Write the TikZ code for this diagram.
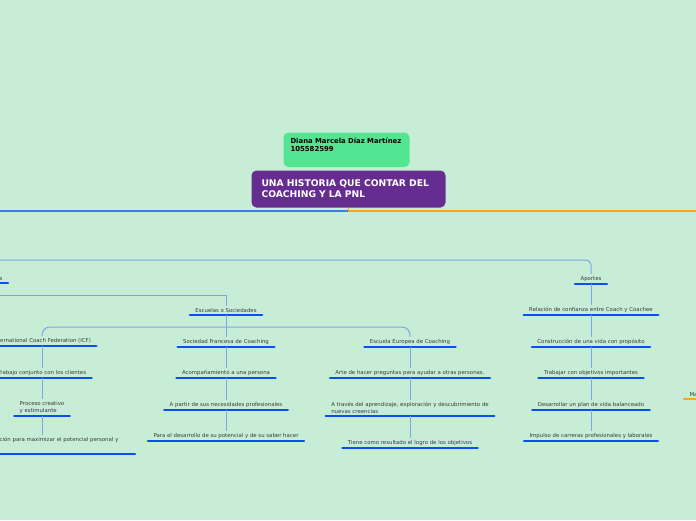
\documentclass[tikz,border=0pt]{standalone}
\usepackage{fontspec}
\setmainfont{DejaVu Sans}
\usetikzlibrary{positioning}
\definecolor{cmint}{HTML}{C7EDD7}
\definecolor{cgreen}{HTML}{52E592}
\definecolor{cpurple}{HTML}{662D91}
\definecolor{cblue}{HTML}{0A50F0}
\definecolor{clink}{HTML}{7BA7E6}
\definecolor{ctrunk}{HTML}{3C7FE0}
\definecolor{corange}{HTML}{F5A623}
\definecolor{ctext}{HTML}{3A3A3A}
\tikzset{
  every picture/.style={x=1pt, y=-1pt, line width=1pt},
  bar/.style={draw=#1, line width=2.6pt, line cap=round},
  topic/.style={text=ctext, font=\fontsize{5.4}{7}\selectfont, inner xsep=5pt, inner ysep=2pt, align=center,
    append after command={(\tikzlastnode.south west) edge[bar=#1] (\tikzlastnode.south east)}},
  topic/.default=cblue,
  link/.style={draw=clink, line width=1pt},
  trunk/.style={draw=#1, line width=1.6pt},
  root/.style={fill=cpurple, text=white, font=\fontsize{9.2}{11}\selectfont\bfseries, rounded corners=5pt,
    text width=174pt, inner xsep=10pt, minimum height=37pt, align=left},
  author/.style={fill=cgreen, text=black, font=\fontsize{6.9}{8}\selectfont\bfseries, rounded corners=5pt,
    text width=112pt, inner xsep=7pt, inner ysep=5.5pt, align=left},
}
\begin{document}
\begin{tikzpicture}
  \useasboundingbox[fill=cmint] (0,0) rectangle (696,520);
  % central topic
  \node[author, anchor=north west] (dmd) at (283,132) {Diana Marcela Díaz Martínez\\105582599\\[2pt]\mbox{}};
  \node[root, anchor=north west] (root) at (251,170) {UNA HISTORIA QUE CONTAR DEL\\COACHING Y LA PNL};
  \coordinate (lft) at (0,211);
  \coordinate (rgt) at (696,211);
  \draw[trunk=ctrunk] (root.south) |- (lft);
  \draw[trunk=corange] (root.south) |- (rgt);
  % left branch
  \node[topic, anchor=south east] (ant) at (8,283) {Antecedentes};
  \node[topic, anchor=south] (esc) at (226,315) {Escuelas o Sociedades};
  \node[topic, anchor=south] (icf1) at (42,346) {International Coach Federation (ICF)};
  \node[topic, anchor=south] (icf2) at (42,378) {Trabajo conjunto con los clientes};
  \node[topic, anchor=south, align=left] (icf3) at (42,416) {Proceso creativo\\y estimulante};
  \node[topic, anchor=south west, align=left, text width=148pt] (icf4) at (-24,454)
    {Motivación para maximizar el potencial personal y\\[3pt]\mbox{}};
  \foreach \t/\y [count=\i] in {Sociedad Francesa de Coaching/347, Acompañamiento a una persona/378,
      A partir de sus necesidades profesionales/410, Para el desarrollo de su potencial y de su saber hacer/441}
    \node[topic, anchor=south] (fr\i) at (226,\y) {\t};
  \node[topic, anchor=south] (eu1) at (410,347) {Escuela Europea de Coaching};
  \node[topic, anchor=south] (eu2) at (410,378) {Arte de hacer preguntas para ayudar a otras personas.};
  \node[topic, anchor=south, align=left] (eu3) at (410,416) {A través del aprendizaje, exploración y descubrimiento de\\nuevas creencias};
  \node[topic, anchor=south] (eu4) at (410,448) {Tiene como resultado el logro de los objetivos};
  % aportes
  \node[topic, anchor=south] (apo) at (591,284) {Aportes};
  \foreach \t/\y [count=\i] in {Relación de confianza entre Coach y Coachee/315, Construcción de una vida con propósito/347,
      Trabajar con objetivos importantes/378, Desarrollar un plan de vida balanceado/410,
      Impulso de carreras profesionales y laborales/441}
    \node[topic, anchor=south] (ap\i) at (591,\y) {\t};
  % right branch
  \node[topic=corange, anchor=south west] (pnl) at (684,399) {Marco};
  % connectors
  \coordinate (w1) at (0,260);
  \coordinate (w2) at (0,295);
  \coordinate (split) at (226,327);
  \draw[link, rounded corners=5pt] (w1) -| (apo.north);
  \draw[link] (w2) -| (esc.north);
  \draw[link] (esc.south) -- (fr1.north);
  \draw[link, rounded corners=8pt] (icf1.north) |- (split) -| (eu1.north);
  \draw[link] (icf1.south) -- (icf2.north);
  \draw[link] (icf2.south) -- (icf3.north);
  \draw[link] (icf3.south) -- (icf3.south |- icf4.north);
  \foreach \i [count=\j from 2] in {1,2,3} \draw[link] (fr\i.south) -- (fr\j.north);
  \foreach \i [count=\j from 2] in {1,2,3} \draw[link] (eu\i.south) -- (eu\j.north);
  \draw[link] (apo.south) -- (ap1.north);
  \foreach \i [count=\j from 2] in {1,...,4} \draw[link] (ap\i.south) -- (ap\j.north);
\end{tikzpicture}
\end{document}
